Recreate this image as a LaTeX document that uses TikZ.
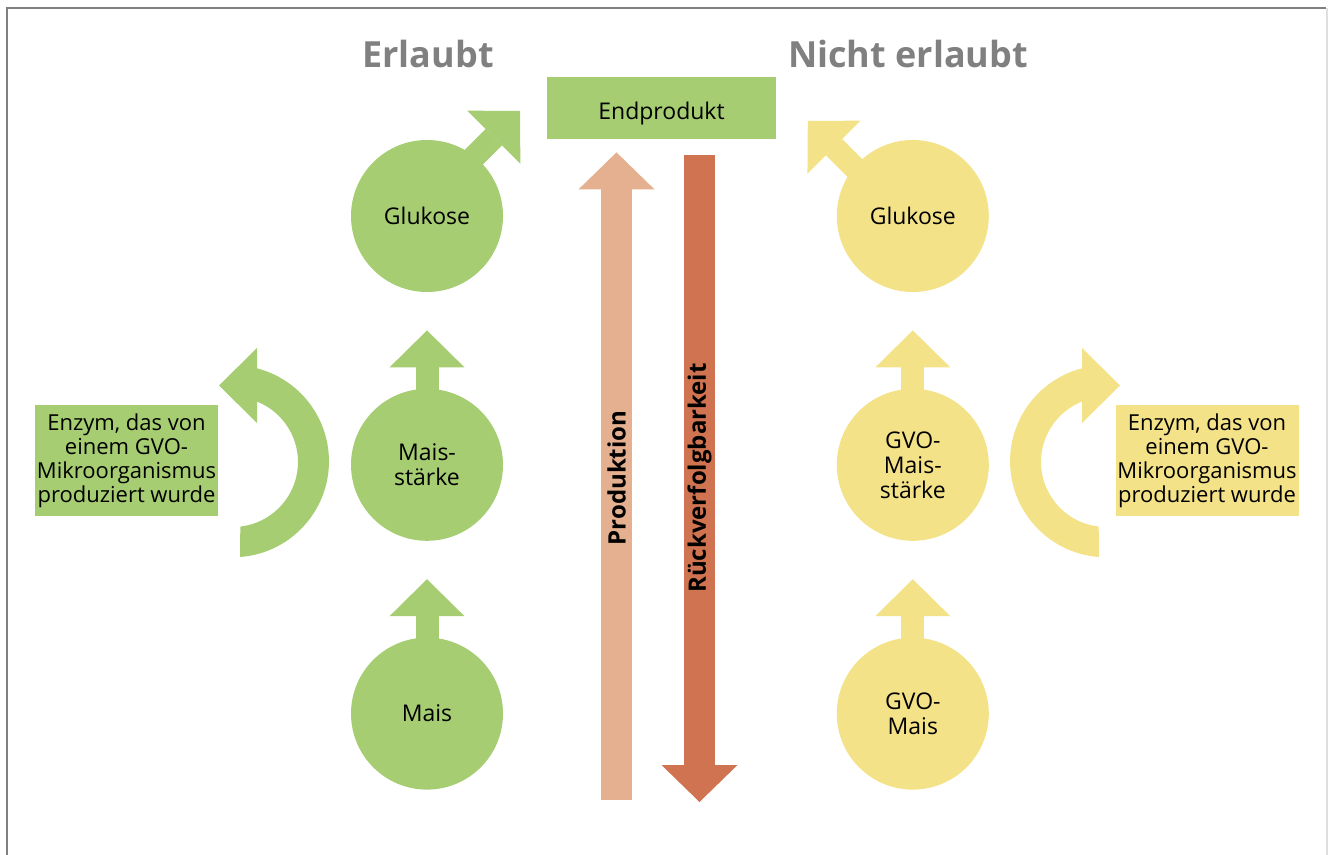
\documentclass[tikz,border=0pt]{standalone}
\usepackage{fontspec}
\setmainfont{Open Sans}
\usepackage{tikz}
\usetikzlibrary {arrows.meta,
                 backgrounds,
                 calc,
                 positioning}
\definecolor{okgreen}{HTML}{A6CD72}
\definecolor{nogold}{HTML}{F3E287}
\definecolor{prodcol}{HTML}{E5B08F}
\definecolor{backcol}{HTML}{D07350}
\definecolor{titlegray}{HTML}{808080}
\tikzset{
        stage/.style={circle, inner sep=0pt, minimum size=76pt, align=center,
                      font=\fontsize{11.5}{12.5}\selectfont},
        okstage/.style={stage, fill=okgreen},
        nostage/.style={stage, fill=nogold},
        heading/.style={anchor=base, text=titlegray,
                        font=\fontsize{18}{20}\selectfont\bfseries},
        note/.style={align=center, inner sep=0pt, minimum width=91.5pt,
                     minimum height=55.5pt, font=\fontsize{11}{12}\selectfont},
        blockarrow/.style={line width=11.5pt,
                           -{Triangle[length=18.5pt, width=37.5pt, line width=0pt]}},
        bigarrow/.style={line width=15.5pt,
                         -{Triangle[length=18.5pt, width=38pt, line width=0pt]}},
        vlabel/.style={rotate=90, font=\fontsize{12}{14}\selectfont\bfseries},
        turnarrow/.pic={
            \fill (7,95) arc[start angle=85.8, end angle=-75.5, radius=96]
                  -- (24,-114) -- (-14,-76.5) -- (24,-39) -- (24,-60.4)
                  arc[start angle=-68.3, end angle=83.5, radius=65] -- cycle;
        },
 }
\begin{document}
\begin{tikzpicture}[x=0.5pt, y=-0.5pt]
    \useasboundingbox (0,0) rectangle (1328,855);
    \draw[titlegray, line width=1pt] (6.5,855) -- (6.5,8.5) -- (1326,8.5);
    \draw[gray!25, line width=1pt] (1326.5,8.5) -- (1326.5,855);

    \node[heading] (allowed) at (428,68) {Erlaubt};
    \node[heading] (forbidden) at (908,68) {Nicht erlaubt};

    \node[fill=okgreen, minimum width=114.5pt, minimum height=31pt,
          text height=12pt, text depth=0pt, font=\fontsize{11.5}{13}\selectfont]
          (endp) at (661.5,108) {Endprodukt};

    \node[okstage] (lgluc) at (427,216) {Glukose};
    \node[okstage, below=48pt of lgluc] (lstarch) {Mais-\\stärke};
    \node[okstage, below=48pt of lstarch] (lmais) {Mais};

    \node[nostage, right=166.5pt of lgluc] (rgluc) {Glukose};
    \node[nostage, below=48pt of rgluc] (rstarch) {GVO-\\Mais-\\stärke};
    \node[nostage, below=48pt of rstarch] (rmais) {GVO-\\Mais};

    \node[note, fill=okgreen] (lenzym) at (126.5,460.5)
         {Enzym, das von\\einem GVO-\\Mikroorganismus\\produziert wurde};
    \node[note, fill=nogold] (renzym) at (1207,460.5)
         {Enzym, das von\\einem GVO-\\Mikroorganismus\\produziert wurde};

    \begin{scope}[on background layer]
        \draw[blockarrow, okgreen] ($(lmais.north)+(0,10)$) -- ($(lmais.north)+(0,-58)$);
        \draw[blockarrow, okgreen] ($(lstarch.north)+(0,10)$) -- ($(lstarch.north)+(0,-58)$);
        \draw[blockarrow, okgreen] ($(lgluc.center)+(26,-38)$) -- ++(67,-67);

        \draw[blockarrow, nogold] ($(rmais.north)+(0,10)$) -- ($(rmais.north)+(0,-58)$);
        \draw[blockarrow, nogold] ($(rstarch.north)+(0,10)$) -- ($(rstarch.north)+(0,-58)$);
        \draw[blockarrow, nogold] ($(rgluc.center)+(-33,-23)$) -- ++(-72,-72);
    \end{scope}

    \pic[okgreen] at (233,462) {turnarrow};
    \pic[nogold, xscale=-1] at (1106,462) {turnarrow};

    \coordinate (prodstart) at (616.5,800);
    \draw[bigarrow, prodcol] (prodstart) -- ($(endp.south)+(-45,13)$);
    \coordinate (backend) at (699.5,802);
    \draw[bigarrow, backcol] ($(endp.south)+(38,16)$) -- (backend);

    \node[vlabel] (prodlbl) at (616.5,478) {Produktion};
    \node[vlabel] (backlbl) at (699.5,478) {Rückverfolgbarkeit};
\end{tikzpicture}
\end{document}
